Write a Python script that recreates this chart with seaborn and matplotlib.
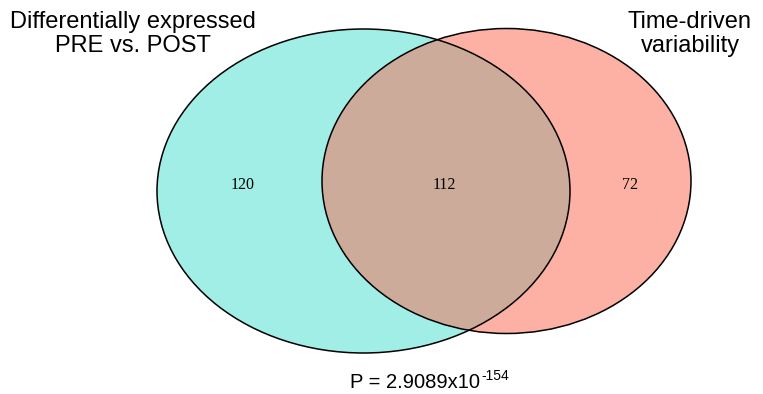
import matplotlib
matplotlib.use("Agg")
import matplotlib.pyplot as plt
from matplotlib.patches import Ellipse
import seaborn as sns

# data
set_names = ["Differentially expressed\nPRE vs. POST", "Time-driven\nvariability"]
region_counts = [120, 112, 72]   # left only, overlap, right only
p_mantissa = "2.9089"
p_exponent = "-154"

sns.set_style("white")
plt.rcParams["font.family"] = ["Liberation Sans", "DejaVu Sans"]
plt.rcParams["text.color"] = "black"

fig = plt.figure(figsize=(7.63, 3.94), dpi=100)
ax = fig.add_axes([0, 0, 1, 1])
ax.set_xlim(0, 763)
ax.set_ylim(394, 0)
ax.axis("off")

col_left = "#A1EEE6"
col_right = "#FDB0A4"
col_both = "#CDAB9B"

left = Ellipse((363.5, 191), 413, 324, facecolor=col_left, edgecolor="none", zorder=1)
right = Ellipse((506.5, 181), 369, 305, facecolor=col_right, edgecolor="none", zorder=1)
ax.add_patch(left)
ax.add_patch(right)
both = Ellipse((506.5, 181), 369, 305, facecolor=col_both, edgecolor="none", zorder=2)
ax.add_patch(both)
both.set_clip_path(left)
for e in [(363.5, 191, 413, 324), (506.5, 181, 369, 305)]:
    ax.add_patch(Ellipse((e[0], e[1]), e[2], e[3], facecolor="none",
                         edgecolor="black", lw=1.1, zorder=3))

serif = ["Liberation Serif", "DejaVu Serif"]
for x, c in zip([243, 444, 630], region_counts):
    ax.text(x, 185, str(c), ha="center", va="center", fontsize=11.5,
            family=serif, color="black", zorder=4)

ax.text(133, 34, set_names[0], ha="center", va="center", fontsize=17,
        linespacing=1.15, color="black", zorder=4)
ax.text(690, 34, set_names[1], ha="center", va="center", fontsize=17,
        linespacing=1.15, color="black", zorder=4)

main = ax.text(350, 388, "P = %sx10" % p_mantissa, ha="left", va="baseline",
               fontsize=14.5, color="black", zorder=4)
fig.canvas.draw()
bb = main.get_window_extent(fig.canvas.get_renderer())
x_end = ax.transData.inverted().transform((bb.x1, bb.y1))[0]
ax.text(x_end + 1, 369, p_exponent, ha="left", va="top",
        fontsize=10, color="black", zorder=4)

fig.savefig("out.png", dpi=100)
